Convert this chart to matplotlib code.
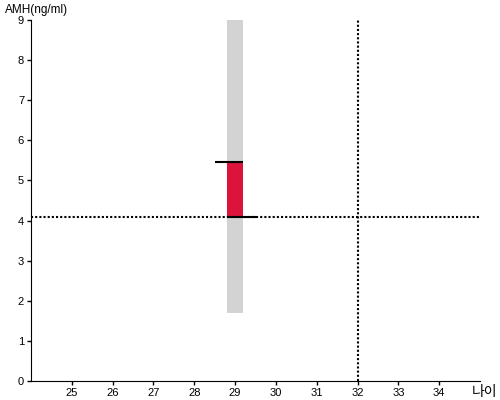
import matplotlib
matplotlib.use("Agg")
import matplotlib.pyplot as plt

plt.rcParams['font.family'] = ['Liberation Sans', 'Noto Sans CJK KR', 'DejaVu Sans']

# data
age = 29.0
range_low = 1.7
range_high = 9.0
value_low = 4.1
value_high = 5.45
ref_age = 32
ref_amh = 4.1
xticks = [25, 26, 27, 28, 29, 30, 31, 32, 33, 34]
yticks = [0, 1, 2, 3, 4, 5, 6, 7, 8, 9]

fig = plt.figure(figsize=(5, 4), dpi=100)
ax = fig.add_axes([0.062, 0.0475, 0.898, 0.9025])

bw = 0.4
ax.bar([age], [range_high - range_low], bottom=[range_low], width=bw, color='#d3d3d3', zorder=1)
ax.bar([age], [value_high - value_low], bottom=[value_low], width=bw, color='#dc143c', zorder=2)
ax.hlines(value_high, age - 0.5, age + bw / 2, color='black', lw=1.5, zorder=3)
ax.hlines(value_low, age - bw / 2, age + 0.5, color='black', lw=1.5, zorder=3)

ax.axhline(ref_amh, color='black', lw=1.5, dashes=(1, 1), zorder=4)
ax.axvline(ref_age, color='black', lw=1.5, dashes=(1, 1), zorder=4)

ax.set_xlim(24, 35)
ax.set_ylim(0, 9)
ax.set_xticks(xticks)
ax.set_yticks(yticks)
ax.tick_params(labelsize=8, length=3, width=1, pad=2, colors='black')
for s in ['top', 'right']:
    ax.spines[s].set_visible(False)

fig.text(0.01, 0.99, 'AMH(ng/ml)', fontsize=8.5, ha='left', va='top')
fig.text(0.995, 0.003, '나이', fontsize=10, ha='right', va='bottom')

fig.savefig('out.png', dpi=100)
